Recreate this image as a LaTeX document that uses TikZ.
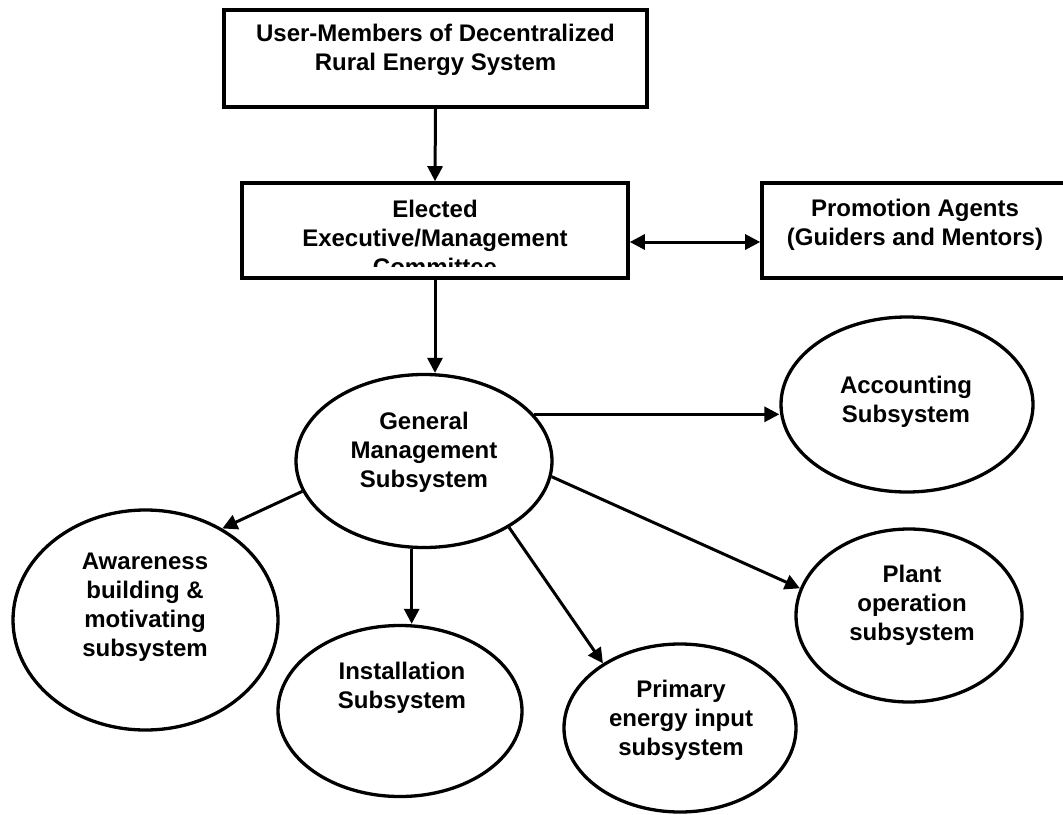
\documentclass[tikz,border=0pt]{standalone}
\usepackage{fontspec}
\setmainfont{Liberation Sans}
\usetikzlibrary{shapes.geometric,arrows.meta}

\tikzset{
  boxnode/.style={draw, line width=3.6pt, rectangle, inner sep=0pt},
  ellnode/.style={draw, line width=3.3pt, ellipse, inner sep=0pt},
  lbl/.style={align=center, inner sep=0pt, font=\bfseries\fontsize{24}{29}\selectfont},
  arr/.style={line width=3pt, -{Triangle[length=15pt,width=15pt]}},
  darr/.style={line width=3pt, {Triangle[length=15pt,width=15pt]}-{Triangle[length=15pt,width=15pt]}}
}

\begin{document}
\begin{tikzpicture}[x=1pt,y=-1pt]
\useasboundingbox[fill=white] (0,0) rectangle (1063,814);

% top-level boxes
\node[boxnode, minimum width=423pt, minimum height=97pt] (users) at (435.5,58.5) {};
\node[lbl] (users-t) at (435.5,50) {User-Members of Decentralized\\Rural Energy System};

\node[boxnode, minimum width=386pt, minimum height=95pt] (exec) at (435,230.5) {};
\begin{scope}
  \clip (242,183) rectangle (628,266.5);
  \node[lbl] (exec-t) at (435,238) {Elected\\Executive/Management\\Committee};
\end{scope}

\node[boxnode, minimum width=306pt, minimum height=95pt] (promo) at (915,230.5) {};
\node[lbl] (promo-t) at (915,225) {Promotion Agents\\(Guiders and Mentors)};

% subsystems
\node[ellnode, minimum width=256pt, minimum height=173pt] (gms) at (424,461) {};
\node[lbl] (gms-t) at (424,452) {General\\Management\\Subsystem};

\node[ellnode, minimum width=252pt, minimum height=175pt] (acc) at (907,404.5) {};
\node[lbl] (acc-t) at (906,402) {Accounting\\Subsystem};

\node[ellnode, minimum width=265pt, minimum height=220pt] (aware) at (145.5,620) {};
\node[lbl] (aware-t) at (145,607) {Awareness\\building \&\\motivating\\subsystem};

\node[ellnode, minimum width=244pt, minimum height=171pt] (inst) at (400,711) {};
\node[lbl] (inst-t) at (402,688) {Installation\\Subsystem};

\node[ellnode, minimum width=232pt, minimum height=168pt] (prim) at (680,728) {};
\node[lbl] (prim-t) at (681,720) {Primary\\energy input\\subsystem};

\node[ellnode, minimum width=226pt, minimum height=173pt] (plant) at (909,615.5) {};
\node[lbl] (plant-t) at (912,605) {Plant\\operation\\subsystem};

% connectors
\draw[arr] (users.south) -- (exec.north);
\draw[darr] ([yshift=-11.5pt]exec.east) -- ([yshift=-11.5pt]promo.west);
\draw[arr] (exec.south) -- (exec.south |- gms.north);
\draw[arr] (gms.23) -- (gms.23 -| acc.west);
\draw[arr] (gms.194) -- (aware.50);
\draw[arr] (gms.262) -- (gms.262 |- inst.north);
\draw[arr] (gms.322) -- (prim.140);
\draw[arr] (gms.353) -- (plant.166);
\end{tikzpicture}
\end{document}
